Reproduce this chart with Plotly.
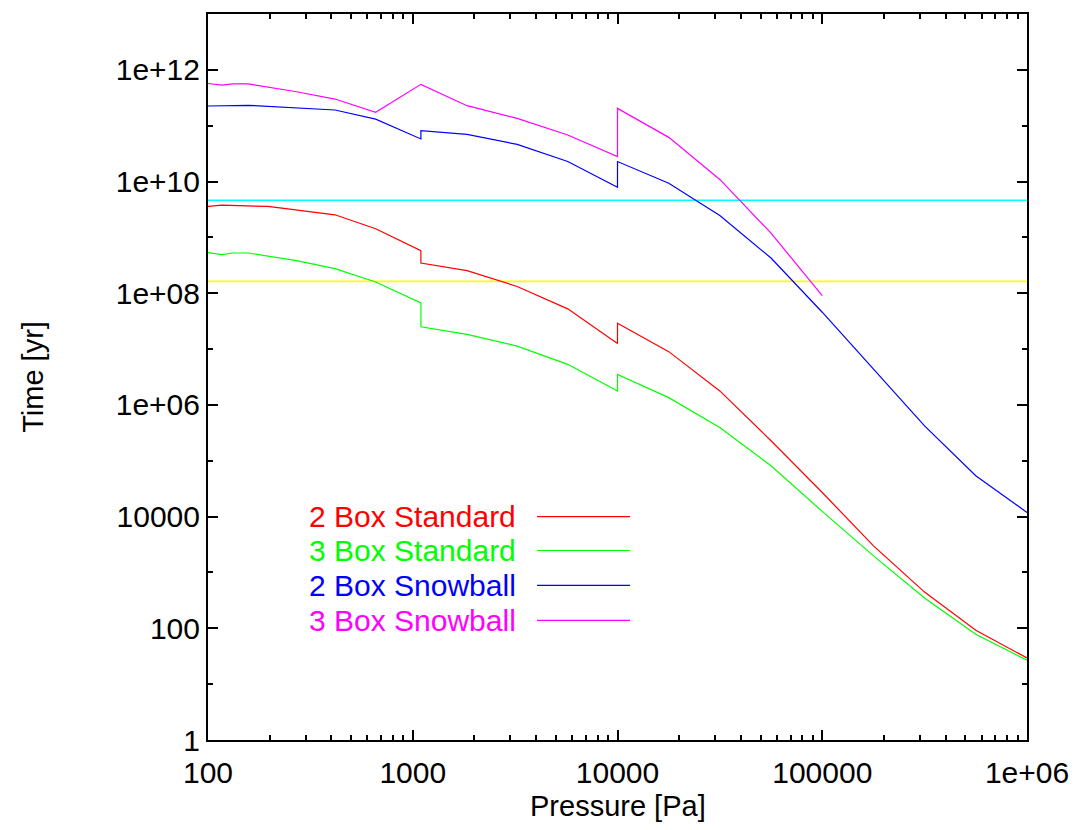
import plotly.graph_objects as go

# ---------------- data ----------------
p_2std = [100, 117, 196, 417, 659, 1096, 1096, 1841, 3236, 5715, 10000, 10000,
          17800, 31600, 56200, 100000, 178000, 316000, 562000, 1000000]
t_2std = [3.58e9, 3.78e9, 3.58e9, 2.54e9, 1.43e9, 5.8e8, 3.48e8, 2.54e8, 1.32e8,
          5.25e7, 1.26e7, 2.91e7, 9.0e6, 1.78e6, 2.28e5, 2.7e4, 3.0e3, 4.45e2, 92, 29.5]

p_3std = [100, 117, 132, 157, 271, 417, 659, 1096, 1096, 1841, 3236, 5715, 10000, 10000,
          17800, 31600, 56200, 100000, 178000, 316000, 562000, 1000000]
t_3std = [5.32e8, 4.91e8, 5.25e8, 5.25e8, 3.84e8, 2.76e8, 1.59e8, 6.71e7, 2.5e7, 1.83e7,
          1.13e7, 5.33e6, 1.78e6, 3.53e6, 1.35e6, 3.94e5, 8.15e4, 1.24e4, 1.98e3,
          3.48e2, 78, 26.9]

p_2snow = [100, 157, 417, 659, 1096, 1096, 1841, 3236, 5715, 10000, 10000,
           17800, 31600, 56200, 100000, 178000, 316000, 562000, 1000000]
t_2snow = [2.25e11, 2.32e11, 1.91e11, 1.31e11, 5.79e10, 8.15e10, 7.0e10, 4.63e10,
           2.28e10, 7.9e9, 2.28e10, 9.33e9, 2.47e9, 4.27e8, 4.57e7, 4.4e6, 4.22e5,
           5.4e4, 1.19e4]

p_3snow = [100, 117, 132, 157, 271, 417, 659, 1096, 1841, 3236, 5715, 10000, 10000,
           17800, 31600, 56200, 100000]
t_3snow = [5.69e11, 5.33e11, 5.62e11, 5.62e11, 4.05e11, 3.0e11, 1.74e11, 5.5e11,
           2.28e11, 1.35e11, 6.82e10, 2.79e10, 2.04e11, 6.18e10, 1.09e10, 1.19e9, 9.1e7]

p_range = [100, 1000000]
t_age_cyan = [4.6e9, 4.6e9]
t_age_yellow = [1.63e8, 1.63e8]

series_names = ["2 Box Standard", "3 Box Standard", "2 Box Snowball", "3 Box Snowball"]
series_colors = ["#ff0000", "#00ff00", "#0000ff", "#ff00ff"]

x_tickvals = [100, 1000, 10000, 100000, 1000000]
x_ticktext = ["100", "1000", "10000", "100000", "1e+06"]
y_tickvals = [1, 100, 1e4, 1e6, 1e8, 1e10, 1e12]
y_ticktext = ["1", "100", "10000", "1e+06", "1e+08", "1e+10", "1e+12"]

x_title = "Pressure [Pa]"
y_title = "Time [yr]"

# ---------------- figure ----------------
W, H = 1086, 830
ML, MR, MT, MB = 208, 59, 12, 90
FONT = "Liberation Sans, Arial, Helvetica, sans-serif"
TICK_SIZE = 30
TITLE_SIZE = 29
KEY_SIZE = 30

fig = go.Figure()
fig.add_trace(go.Scatter(x=p_range, y=t_age_cyan, mode="lines",
                         line=dict(color="#00ffff", width=1.5), showlegend=False))
fig.add_trace(go.Scatter(x=p_range, y=t_age_yellow, mode="lines",
                         line=dict(color="#ffff00", width=1.8), showlegend=False))
for xs, ys, nm, col in zip([p_2std, p_3std, p_2snow, p_3snow],
                           [t_2std, t_3std, t_2snow, t_3snow],
                           series_names, series_colors):
    fig.add_trace(go.Scatter(x=xs, y=ys, mode="lines", name=nm,
                             line=dict(color=col, width=1.2), showlegend=False))

x_minor = [m * 10 ** e for e in range(2, 6) for m in range(2, 10)]
y_minor = [10.0 ** e for e in range(1, 14, 2)]

axis_common = dict(
    type="log", showgrid=False, zeroline=False, showline=True, linecolor="black",
    linewidth=2, mirror="allticks", ticks="inside", ticklen=10, tickwidth=1.5,
    tickcolor="black", tickfont=dict(family=FONT, size=TICK_SIZE, color="black"),
)
fig.update_xaxes(**axis_common, range=[2, 6], tickmode="array",
                 tickvals=x_tickvals, ticktext=x_ticktext, ticklabelstandoff=5,
                 minor=dict(tickmode="array", tickvals=x_minor, ticks="inside",
                            ticklen=5, tickwidth=1.5, tickcolor="black"))
fig.update_yaxes(**axis_common, range=[0, 13], tickmode="array",
                 tickvals=y_tickvals, ticktext=y_ticktext,
                 minor=dict(tickmode="array", tickvals=y_minor, ticks="inside",
                            ticklen=5, tickwidth=1.5, tickcolor="black"),
                 title=dict(text=y_title,
                            font=dict(family=FONT, size=TITLE_SIZE, color="black"),
                            standoff=64))

plot_w = W - ML - MR
plot_h = H - MT - MB

# x-axis title placed as gnuplot does
fig.add_annotation(xref="paper", yref="paper", x=0.5, y=(H - MB - 806) / plot_h,
                   xanchor="center", yanchor="middle", showarrow=False,
                   text=x_title, font=dict(family=FONT, size=TITLE_SIZE, color="black"))

# gnuplot-style key: coloured text on the left, sample line on the right
key_rows_px = [516, 550, 585, 620]
key_text_right_px = 518
key_line_px = (537, 630)
for nm, col, ry in zip(series_names, series_colors, key_rows_px):
    yp = (H - MB - ry) / plot_h
    fig.add_annotation(xref="paper", yref="paper",
                       x=(key_text_right_px - ML) / plot_w, y=yp,
                       xanchor="right", yanchor="middle", showarrow=False,
                       text=nm, font=dict(family=FONT, size=KEY_SIZE, color=col))
    fig.add_shape(type="line", xref="paper", yref="paper",
                  x0=(key_line_px[0] - ML) / plot_w, x1=(key_line_px[1] - ML) / plot_w,
                  y0=yp, y1=yp, line=dict(color=col, width=1.2))

fig.update_layout(width=W, height=H, margin=dict(l=ML, r=MR, t=MT, b=MB),
                  plot_bgcolor="white", paper_bgcolor="white",
                  font=dict(family=FONT, color="black"))

fig.write_html("out.html")
